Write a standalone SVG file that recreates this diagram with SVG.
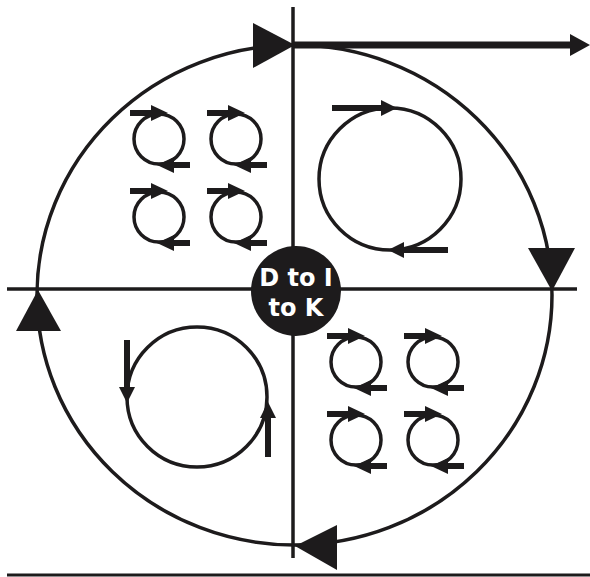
<svg xmlns="http://www.w3.org/2000/svg" xmlns:xlink="http://www.w3.org/1999/xlink" width="590" height="577" viewBox="0 0 590 577">
<style>
.ln{stroke:#1d1b1c;fill:none;stroke-width:3.5}
.thk{stroke:#1d1b1c;fill:none;stroke-width:6}
.hd{fill:#1d1b1c;stroke:none}
.lbl{font-family:"DejaVu Sans","Liberation Sans",sans-serif;font-weight:bold;font-size:24px;fill:#ffffff;text-anchor:middle}
</style>
<defs>
<g id="small">
<circle cx="0" cy="0" r="25" class="ln"/>
<line x1="-29" y1="-26" x2="-5" y2="-26" class="thk"/>
<polygon points="-8,-34 -8,-18 9,-26" class="hd"/>
<line x1="31" y1="26" x2="12" y2="26" class="thk"/>
<polygon points="15,18 15,34 -2,26" class="hd"/>
</g>
</defs>
<rect width="590" height="577" fill="#ffffff"/>
<g id="connectors">
<ellipse cx="294.5" cy="295" rx="257.5" ry="250" class="ln"/>
<line x1="7" y1="289" x2="577" y2="289" class="ln"/>
<line x1="293" y1="7" x2="293" y2="558" class="ln"/>
<line x1="293" y1="45" x2="573" y2="45" stroke="#1d1b1c" stroke-width="7"/>
<polygon points="570,34 570,56 590,45" class="hd"/>
<polygon points="253,23 253,68 295,45" class="hd"/>
<polygon points="528,248 575,248 552,291" class="hd"/>
<polygon points="337,525 337,570 295,546" class="hd"/>
<polygon points="38,290 16,331 61,331" class="hd"/>
<line x1="7" y1="575" x2="590" y2="575" stroke="#1d1b1c" stroke-width="3"/>
</g>
<g id="q-topleft">
<use xlink:href="#small" x="159" y="139"/>
<use xlink:href="#small" x="236" y="139"/>
<use xlink:href="#small" x="159" y="217"/>
<use xlink:href="#small" x="236" y="217"/>
</g>
<g id="q-bottomright">
<use xlink:href="#small" x="356" y="362"/>
<use xlink:href="#small" x="433" y="362"/>
<use xlink:href="#small" x="356" y="440"/>
<use xlink:href="#small" x="433" y="440"/>
</g>
<g id="q-topright">
<circle cx="390" cy="179" r="71" class="ln"/>
<line x1="332" y1="108" x2="384" y2="108" class="thk"/>
<polygon points="381,100 381,116 397,108" class="hd"/>
<line x1="448" y1="250" x2="401" y2="250" class="thk"/>
<polygon points="404,242 404,258 388,250" class="hd"/>
</g>
<g id="q-bottomleft">
<circle cx="197" cy="397" r="70" class="ln"/>
<line x1="127" y1="340" x2="127" y2="390" class="thk"/>
<polygon points="119,387 135,387 127,403" class="hd"/>
<line x1="268" y1="457" x2="268" y2="415" class="thk"/>
<polygon points="260,418 276,418 268,402" class="hd"/>
</g>
<g id="center">
<circle cx="296" cy="291" r="45" fill="#1d1b1c"/>
<text x="296" y="286" class="lbl">D to I</text>
<text x="296" y="316" class="lbl">to K</text>
</g>
</svg>
